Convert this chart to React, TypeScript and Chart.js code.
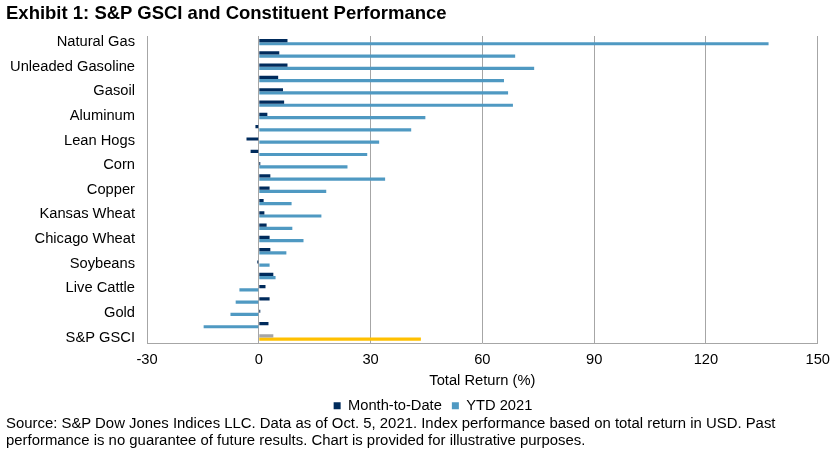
import React, { useEffect, useRef } from "react";
import { Chart, registerables } from "chart.js";

Chart.register(...registerables);

const categories = [
  "Natural Gas", "Heating Oil", "Unleaded Gasoline", "Brent Crude", "Gasoil", "WTI Crude",
  "Aluminum", "Coffee", "Lean Hogs", "Cotton", "Corn", "Zinc", "Copper", "Nickel",
  "Kansas Wheat", "Sugar", "Chicago Wheat", "Lead", "Soybeans", "Cocoa", "Live Cattle",
  "Feeder Cattle", "Gold", "Silver", "S&P GSCI",
];
const monthToDate = [
  7.7, 5.5, 7.7, 5.2, 6.5, 6.8, 2.3, -0.9, -3.3, -2.2, 0.4, 3.1, 2.9, 1.3, 1.5, 2.1, 2.9, 3.1,
  -0.4, 3.9, 1.8, 2.9, 0.4, 2.6, 3.9,
];
const ytd2021 = [
  136.8, 68.8, 73.9, 65.8, 66.9, 68.2, 44.7, 40.9, 32.3, 29.1, 23.8, 33.9, 18.1, 8.8, 16.8, 9.0,
  12.0, 7.4, 2.9, 4.5, -5.2, -6.2, -7.6, -14.8, 43.5,
];
const seriesNames = ["Month-to-Date", "YTD 2021"];
const xTicks = { min: -30, max: 150, step: 30 };
const titleText = "Exhibit 1: S&P GSCI and Constituent Performance";
const axisTitle = "Total Return (%)";
const sourceLines = [
  "Source: S&P Dow Jones Indices LLC. Data as of Oct. 5, 2021. Index performance based on total return in USD. Past",
  "performance is no guarantee of future results. Chart is provided for illustrative purposes.",
];

const NAVY = "#002B5C";
const BLUE = "#4F99C2";
const GRAY = "#A5A5A5";
const YELLOW = "#FFC000";
const GRID = "#A6A6A6";
const FONT = "'Liberation Sans', Arial, sans-serif";
const INDEX = "S&P GSCI";

const shiftLegend = {
  id: "shiftLegend",
  afterLayout(chart: any) {
    const l = chart.legend;
    if (l) {
      l.left += 48;
    }
  },
};

export default function App() {
  const ref = useRef<HTMLCanvasElement>(null);

  useEffect(() => {
    document.body.style.margin = "0";
    const canvas = ref.current;
    if (!canvas) return;
    const chart = new Chart(canvas, {
      type: "bar",
      data: {
        labels: categories,
        datasets: [
          {
            label: seriesNames[0],
            data: monthToDate,
            backgroundColor: categories.map((c) => (c === INDEX ? GRAY : NAVY)),
            borderWidth: 0,
            categoryPercentage: 0.52,
            barPercentage: 1,
          },
          {
            label: seriesNames[1],
            data: ytd2021,
            backgroundColor: categories.map((c) => (c === INDEX ? YELLOW : BLUE)),
            borderWidth: 0,
            categoryPercentage: 0.52,
            barPercentage: 1,
          },
        ],
      },
      plugins: [shiftLegend],
      options: {
        indexAxis: "y",
        animation: false,
        responsive: false,
        devicePixelRatio: 1,
        layout: { padding: { top: 36, right: 20, bottom: 35, left: 0 } },
        font: { family: FONT, size: 14.7 },
        plugins: {
          tooltip: { enabled: false },
          legend: {
            position: "bottom",
            labels: {
              boxWidth: 7,
              boxHeight: 7,
              padding: 10,
              color: "#000",
              font: { family: FONT, size: 14.7 },
            },
          },
        },
        scales: {
          x: {
            type: "linear",
            min: xTicks.min,
            max: xTicks.max,
            ticks: {
              stepSize: xTicks.step,
              color: "#000",
              padding: 8,
              font: { family: FONT, size: 14.7 },
            },
            grid: { color: GRID, lineWidth: 1, drawTicks: false },
            border: { color: GRID, width: 1 },
            title: {
              display: true,
              text: axisTitle,
              color: "#000",
              font: { family: FONT, size: 14.7, lineHeight: 1 },
              padding: { top: 0, bottom: 0 },
            },
            afterFit: (scale: any) => {
              scale.height = 44.7;
            },
          },
          y: {
            type: "category",
            ticks: {
              autoSkip: false,
              color: "#000",
              padding: 12,
              font: { family: FONT, size: 14.7 },
              callback: (_v: any, i: number) => (i % 2 === 0 ? categories[i] : ""),
            },
            grid: { display: false, drawTicks: false },
            border: { color: GRID, width: 1 },
            afterFit: (scale: any) => {
              scale.width = 147;
            },
          },
        },
      },
    });
    return () => chart.destroy();
  }, []);

  return (
    <div style={{ position: "relative", width: 838, height: 458, background: "#fff", fontFamily: FONT }}>
      <canvas ref={ref} width={838} height={458} style={{ position: "absolute", left: 0, top: 0 }} />
      <div
        style={{
          position: "absolute",
          left: 6,
          top: 3.5,
          fontSize: 18.5,
          lineHeight: 1,
          fontWeight: "bold",
          color: "#000",
          whiteSpace: "nowrap",
        }}
      >
        {titleText}
      </div>
      <div
        style={{
          position: "absolute",
          left: 6,
          top: 415.3,
          fontSize: 14.9,
          lineHeight: "17px",
          color: "#000",
          whiteSpace: "nowrap",
        }}
      >
        {sourceLines.map((l, i) => (
          <div key={i}>{l}</div>
        ))}
      </div>
    </div>
  );
}
